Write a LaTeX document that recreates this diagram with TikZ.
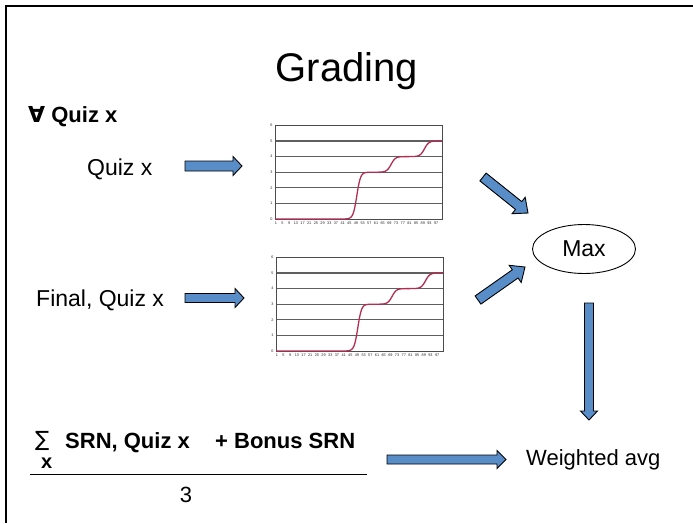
\documentclass[tikz,border=0pt]{standalone}
\usepackage{fontspec}
\setmainfont{Liberation Sans}
\newfontfamily\symfont{DejaVu Sans}
\usetikzlibrary{calc,shapes.geometric}
\definecolor{arrowblue}{RGB}{88,141,200}
\definecolor{curvered}{RGB}{178,45,80}
\definecolor{gridgray}{RGB}{95,95,95}

% block arrow: start, tip, shaft half width, head half width, head length
\newcommand\blockarrow[5]{%
  \coordinate (ba-n) at ($(#2)!#5!(#1)$);
  \draw[blockarrow] ($(#1)!#3!90:(#2)$) -- ($(ba-n)!#3!90:(#2)$)
    -- ($(ba-n)!#4!90:(#2)$) -- (#2) -- ($(ba-n)!#4!-90:(#2)$)
    -- ($(ba-n)!#3!-90:(#2)$) -- ($(#1)!#3!-90:(#2)$) -- cycle;}

% small step chart, #1 = lower left corner of the plot area
\newcommand\gradechart[1]{%
  \begin{scope}[shift={(#1)}, x=1.67pt, y=15.6pt]
    \foreach \k in {1,...,5} \draw[gridline] (0,\k) -- (100,\k);
    \draw[chartframe] (0,0) rectangle (100,6);
    \foreach \k in {0,...,6} \node[ticklabel, anchor=east] at (-1.2,\k) {\k};
    \foreach \k in {1,5,...,97} \node[ticklabel, anchor=north] at (\k-0.5,-0.12) {\k};
    \draw[curve] plot[domain=0:100, samples=200]
      (\x,{3*sg((\x-49)/1.1)+sg((\x-69.5)/1.3)+sg((\x-89.5)/1.3)});
  \end{scope}}

\begin{document}
\begin{tikzpicture}[x=1pt, y=-1pt,
  declare function={sg(\t)=1/(1+exp(-max(min(\t,9),-9)));},
  blockarrow/.style={draw=black, line width=0.9pt, fill=arrowblue, line join=miter},
  gridline/.style={draw=gridgray, line width=1.2pt},
  chartframe/.style={draw=gray!60!black, line width=0.8pt},
  ticklabel/.style={font=\fontsize{3.8}{4}\selectfont, text=gray!30!black, inner sep=0.4pt},
  curve/.style={draw=curvered, line width=1.3pt},
  txt/.style={font=\fontsize{23}{27}\selectfont, inner sep=0pt},
  btxt/.style={font=\fontsize{22}{26}\selectfont\bfseries, inner sep=0pt}]
\useasboundingbox (0,0) rectangle (693,523);

% slide frame
\draw[line width=2.2pt] (6,523) -- (6,6) -- (693,6);

% texts
\node[font=\fontsize{40}{46}\selectfont, inner sep=0pt, anchor=base] (title) at (347,81) {Grading};
\node[btxt, anchor=base west] (forall) at (28,122) {{\symfont\bfseries ∀} Quiz x};
\node[txt, anchor=base west] (quiz) at (87,175) {Quiz x};
\node[txt, anchor=base west] (final) at (36,306) {Final, Quiz x};
\node[draw, ellipse, line width=0.9pt, minimum width=103pt, minimum height=49pt,
      inner sep=0pt, font=\fontsize{23}{27}\selectfont] (max) at (584,249) {Max};
\node[txt, font=\fontsize{22}{26}\selectfont, anchor=base west] (wavg) at (526,465) {Weighted avg};

% the averaging formula
\node[inner sep=0pt, anchor=base west, font=\fontsize{21}{24}\selectfont\symfont] (sigma) at (35,446) {∑};
\node[btxt, font=\fontsize{20}{24}\selectfont\bfseries, anchor=base west] (sumidx) at (41,468) {x};
\node[btxt, anchor=base west] (srn) at (65,448) {SRN, Quiz x};
\node[btxt, anchor=base west] (bonus) at (215,448) {+ Bonus SRN};
\coordinate (fracL) at (30,474);
\coordinate (fracR) at (367,474);
\draw[line width=1pt] (fracL) -- (fracR);
\node[txt, font=\fontsize{22}{26}\selectfont, anchor=base] (three) at (186,502) {3};

% charts
\coordinate (chart1) at (275,219);
\coordinate (chart2) at (276,351);
\gradechart{chart1}
\gradechart{chart2}

% arrows
\coordinate (a1s) at (185,166);  \coordinate (a1e) at (242,166);
\coordinate (a2s) at (185,298);  \coordinate (a2e) at (244,298);
\coordinate (a3s) at (483,177);  \coordinate (a3e) at (528,213);
\coordinate (a4s) at (478,300);  \coordinate (a4e) at (525,267);
\coordinate (a5s) at (589,303);  \coordinate (a5e) at (589,420);
\coordinate (a6s) at (387,459.5);\coordinate (a6e) at (506,459.5);
\blockarrow{a1s}{a1e}{5pt}{9.5pt}{9pt}
\blockarrow{a2s}{a2e}{4.5pt}{9.5pt}{9pt}
\blockarrow{a3s}{a3e}{5pt}{10.5pt}{12pt}
\blockarrow{a4s}{a4e}{5pt}{10.5pt}{12pt}
\blockarrow{a5s}{a5e}{4.5pt}{8.5pt}{9pt}
\blockarrow{a6s}{a6e}{4.5pt}{9pt}{9pt}
\end{tikzpicture}
\end{document}
